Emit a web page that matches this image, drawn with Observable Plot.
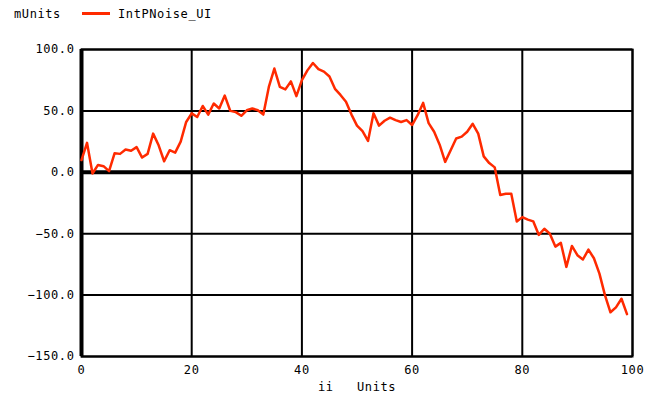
<!DOCTYPE html>
<html><head><meta charset="utf-8">
<script src="https://cdn.jsdelivr.net/npm/d3@7"></script>
<script src="https://cdn.jsdelivr.net/npm/@observablehq/plot@0.6"></script>
<style>
body{margin:0;background:#fff;}
#wrap{position:relative;width:670px;height:402px;overflow:hidden;}
#legend{position:absolute;left:0;top:0;width:670px;height:30px;font-family:"DejaVu Sans Mono",monospace;font-size:12px;letter-spacing:0.6px;color:#000;}
#legend span{position:absolute;top:7px;}
#legend .sw{position:absolute;left:82px;top:12px;width:28px;height:3px;background:#ff2a00;}
</style></head>
<body><div id="wrap"><div id="legend"><span style="left:14px">mUnits</span><div class="sw"></div><span style="left:118px">IntPNoise_UI</span></div><div id="chart"></div></div>
<script>
const seriesName = "IntPNoise_UI";
const yUnit = "mUnits";
const xLabel = "ii\u00a0\u00a0\u00a0Units";
const xTicks = [0, 20, 40, 60, 80, 100];
const yTicks = [-150, -100, -50, 0, 50, 100];
const ii = d3.range(0, 100);
const values = [
  10, 24, -1, 6, 5, 1, 15.5, 15, 18.5, 17.5,
  20.5, 12, 15, 31.5, 22, 9, 18, 16, 25, 41,
  48, 45, 54, 47, 56, 52, 62.5, 50, 49, 46,
  50.5, 52, 50.5, 47, 69.5, 84.5, 69.5, 67.5, 74, 62,
  75, 83, 89, 84, 82, 78, 68, 63, 57.5, 47,
  38, 33.5, 25.5, 48, 38, 42, 44.5, 42.5, 41, 42.5,
  38.5, 46.5, 56.5, 40, 33, 22.5, 8.5, 18, 27.5, 29,
  33, 39.5, 31.5, 13, 7.5, 4, -18.5, -17.5, -17.5, -40,
  -36.5, -38.5, -40, -51, -46, -50, -60.5, -57.5, -77, -60,
  -67.5, -71, -63, -70, -82.5, -100, -114, -110, -103, -115.5
];
const data = ii.map((x, i) => ({x, y: values[i]}));

const chart = Plot.plot({
  width: 670, height: 402,
  marginLeft: 81, marginRight: 38, marginTop: 49, marginBottom: 46,
  style: {fontFamily: "DejaVu Sans Mono, monospace", fontSize: "12px", letterSpacing: "0.6px", color: "#000", background: "#fff"},
  x: {domain: [0, 100]},
  y: {domain: [-150, 100]},
  marks: [
    Plot.gridX(xTicks, {stroke: "#000", strokeOpacity: 1, strokeWidth: 2}),
    Plot.gridY(yTicks, {stroke: "#000", strokeOpacity: 1, strokeWidth: 2}),
    Plot.frame({stroke: "#000", strokeWidth: 2}),
    Plot.ruleY([0], {stroke: "#000", strokeWidth: 4}),
    Plot.ruleX([0], {stroke: "#000", strokeWidth: 4}),
    Plot.line(data, {x: "x", y: "y", stroke: "#ff2a00", strokeWidth: 2.5}),
    Plot.axisY(yTicks, {tickSize: 0, tickPadding: 7, tickFormat: d3.format(".1f"), label: null}),
    Plot.axisX(xTicks, {tickSize: 0, tickPadding: 9, tickFormat: d => String(d), label: xLabel, labelAnchor: "center", labelArrow: "none", labelOffset: 34})
  ]
});
document.getElementById("chart").appendChild(chart);
</script>
</body></html>
